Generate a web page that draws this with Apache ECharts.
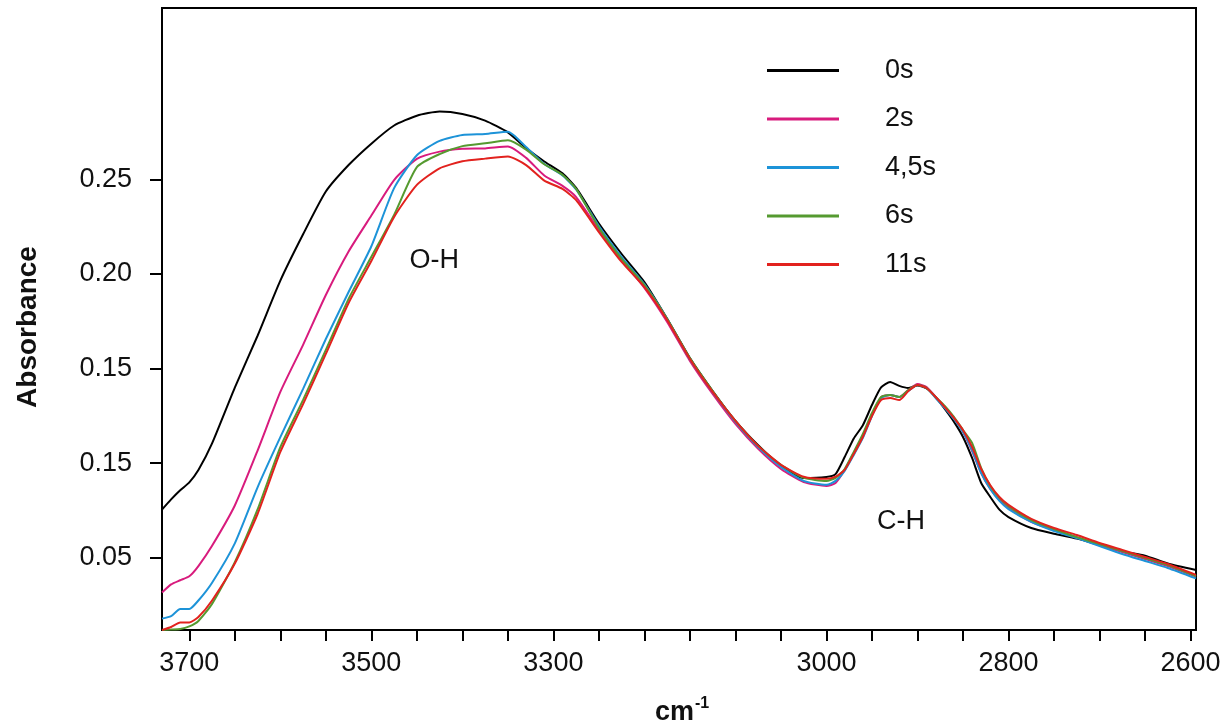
<!DOCTYPE html>
<html>
<head>
<meta charset="utf-8">
<script src="https://cdn.jsdelivr.net/npm/echarts@6/dist/echarts.min.js"></script>
<style>
  html, body { margin: 0; padding: 0; background: #fff; }
  #chart { width: 1227px; height: 724px; }
</style>
</head>
<body>
<div id="chart"></div>
<script>
// wavenumbers (cm-1), shared by all spectra
const wavenumbers = [3730, 3720, 3710, 3700, 3690, 3675, 3650, 3625, 3600, 3575,
  3550, 3525, 3500, 3475, 3450, 3425, 3400, 3375, 3350, 3330,
  3310, 3290, 3275, 3250, 3225, 3200, 3175, 3150, 3125, 3100,
  3075, 3050, 3025, 3000, 2990, 2980, 2970, 2960, 2950, 2940,
  2930, 2920, 2910, 2900, 2890, 2880, 2870, 2860, 2850, 2840,
  2830, 2820, 2810, 2800, 2775, 2750, 2725, 2700, 2675, 2650,
  2625, 2594];

const abs0s = [0.0754, 0.0808, 0.0856, 0.0898, 0.0963, 0.1104, 0.1399, 0.1673, 0.1964, 0.2209,
  0.2435, 0.2575, 0.2688, 0.2784, 0.2836, 0.2858, 0.2845, 0.2810, 0.2748, 0.2665,
  0.2594, 0.2531, 0.2454, 0.2266, 0.2105, 0.1957, 0.1763, 0.1555, 0.1381, 0.1223,
  0.1094, 0.0985, 0.0921, 0.0927, 0.0942, 0.1032, 0.1130, 0.1200, 0.1307, 0.1400,
  0.1429, 0.1408, 0.1397, 0.1410, 0.1395, 0.1349, 0.1286, 0.1219, 0.1138, 0.1027,
  0.0895, 0.0821, 0.0754, 0.0715, 0.0657, 0.0627, 0.0601, 0.0567, 0.0533, 0.0511,
  0.0469, 0.0435];

const abs2s = [0.0316, 0.0359, 0.0381, 0.0402, 0.0456, 0.0563, 0.0776, 0.1066, 0.1376, 0.1625,
  0.1888, 0.2118, 0.2308, 0.2496, 0.2608, 0.2646, 0.2661, 0.2663, 0.2673, 0.2613,
  0.2520, 0.2465, 0.2406, 0.2232, 0.2073, 0.1926, 0.1746, 0.1540, 0.1365, 0.1207,
  0.1075, 0.0969, 0.0900, 0.0879, 0.0895, 0.0963, 0.1053, 0.1144, 0.1254, 0.1349,
  0.1360, 0.1349, 0.1386, 0.1418, 0.1402, 0.1349, 0.1296, 0.1239, 0.1164, 0.1064,
  0.0947, 0.0863, 0.0805, 0.0763, 0.0689, 0.0646, 0.0609, 0.0567, 0.0530, 0.0493,
  0.0456, 0.0400];

const abs45s = [0.0178, 0.0191, 0.0229, 0.0229, 0.0274, 0.0368, 0.0576, 0.0872, 0.1137, 0.1392,
  0.1656, 0.1904, 0.2146, 0.2453, 0.2627, 0.2703, 0.2734, 0.2739, 0.2751, 0.2670,
  0.2581, 0.2520, 0.2446, 0.2253, 0.2089, 0.1946, 0.1762, 0.1550, 0.1376, 0.1218,
  0.1085, 0.0980, 0.0906, 0.0885, 0.0906, 0.0959, 0.1043, 0.1133, 0.1249, 0.1344,
  0.1360, 0.1349, 0.1381, 0.1413, 0.1397, 0.1344, 0.1291, 0.1233, 0.1164, 0.1069,
  0.0947, 0.0863, 0.0800, 0.0757, 0.0689, 0.0641, 0.0604, 0.0562, 0.0520, 0.0483,
  0.0446, 0.0391];

const abs6s = [0.0118, 0.0120, 0.0123, 0.0137, 0.0166, 0.0256, 0.0476, 0.0755, 0.1084, 0.1334,
  0.1598, 0.1868, 0.2090, 0.2312, 0.2564, 0.2633, 0.2675, 0.2690, 0.2706, 0.2657,
  0.2579, 0.2523, 0.2449, 0.2243, 0.2079, 0.1941, 0.1762, 0.1555, 0.1381, 0.1223,
  0.1091, 0.0991, 0.0922, 0.0906, 0.0922, 0.0969, 0.1059, 0.1154, 0.1265, 0.1349,
  0.1360, 0.1349, 0.1386, 0.1413, 0.1397, 0.1349, 0.1302, 0.1244, 0.1175, 0.1107,
  0.0974, 0.0879, 0.0816, 0.0773, 0.0699, 0.0652, 0.0609, 0.0572, 0.0535, 0.0498,
  0.0461, 0.0403];

const abs11s = [0.0118, 0.0134, 0.0158, 0.0158, 0.0187, 0.0274, 0.0469, 0.0731, 0.1059, 0.1312,
  0.1577, 0.1846, 0.2068, 0.2301, 0.2470, 0.2558, 0.2595, 0.2609, 0.2620, 0.2575,
  0.2493, 0.2449, 0.2390, 0.2221, 0.2063, 0.1930, 0.1756, 0.1550, 0.1376, 0.1223,
  0.1091, 0.0991, 0.0928, 0.0917, 0.0928, 0.0964, 0.1048, 0.1138, 0.1249, 0.1333,
  0.1344, 0.1333, 0.1381, 0.1413, 0.1397, 0.1349, 0.1296, 0.1239, 0.1175, 0.1085,
  0.0969, 0.0883, 0.0821, 0.0779, 0.0705, 0.0657, 0.0620, 0.0578, 0.0541, 0.0504,
  0.0467, 0.0409];

const seriesNames = ['0s', '2s', '4,5s', '6s', '11s'];
const seriesColors = ['#000000', '#d81b7d', '#1d93d8', '#559a30', '#e2221e'];
const seriesValues = [abs0s, abs2s, abs45s, abs6s, abs11s];

// axis ticks / labels (the original figure prints 0.15 twice)
const xLabelValues = [3700, 3500, 3300, 3000, 2800, 2600];
const yTickValues = [0.05, 0.10, 0.15, 0.20, 0.25];
const yTickLabels = ['0.05', '0.15', '0.15', '0.20', '0.25'];

// band annotations
const bandLabels = [
  { text: 'O-H', wn: 3431, abs: 0.2068 },
  { text: 'C-H', wn: 2918, abs: 0.0690 }
];

const FONT = '"Liberation Sans", Arial, sans-serif';

let xTickValues = [];
for (let w = 2600; w <= 3700; w += 50) xTickValues.push(w);

const chart = echarts.init(document.getElementById('chart'), null, { renderer: 'canvas' });

const series = seriesNames.map((name, i) => ({
  name: name,
  type: 'line',
  data: wavenumbers.map((w, k) => [w, seriesValues[i][k]]),
  showSymbol: false,
  symbol: 'none',
  smooth: 0.2,
  color: seriesColors[i],
  lineStyle: { width: 2, color: seriesColors[i] },
  z: 2 + i
}));

chart.setOption({
  animation: false,
  backgroundColor: '#fff',
  grid: {
    left: 162, right: 31, top: 8, bottom: 94,
    show: true, borderColor: '#000', borderWidth: 2,
    outerBoundsMode: 'none'
  },
  legend: {
    orient: 'vertical',
    left: 762, top: 52,
    icon: 'rect',
    itemWidth: 72, itemHeight: 3,
    itemGap: 21.5,
    selectedMode: false,
    textStyle: { fontSize: 27, fontFamily: FONT, color: '#111', lineHeight: 27, padding: [0, 0, 0, 41] },
    data: seriesNames
  },
  xAxis: {
    type: 'value',
    inverse: true,
    min: 2594, max: 3730,
    axisLine: { show: true, lineStyle: { color: '#000', width: 2 } },
    axisTick: { show: true, inside: false, length: 11, lineStyle: { color: '#000', width: 2 }, customValues: xTickValues },
    axisLabel: {
      customValues: xLabelValues, margin: 20, fontSize: 27, fontFamily: FONT, color: '#111',
      formatter: function (v) { return String(Math.round(v)); }
    },
    splitLine: { show: false }
  },
  yAxis: {
    type: 'value',
    min: 0.0118, max: 0.3405,
    axisLine: { show: true, lineStyle: { color: '#000', width: 2 } },
    axisTick: { show: true, inside: false, length: 12, lineStyle: { color: '#000', width: 2 }, customValues: yTickValues },
    axisLabel: {
      customValues: yTickValues, margin: 30, fontSize: 27, fontFamily: FONT, color: '#111',
      formatter: function (v) {
        const idx = yTickValues.findIndex(t => Math.abs(t - v) < 1e-6);
        return idx >= 0 ? yTickLabels[idx] : '';
      }
    },
    splitLine: { show: false }
  },
  series: series
});

// axis titles and band labels
const graphics = [
  {
    type: 'text', x: 28, y: 327, rotation: Math.PI / 2,
    style: { text: 'Absorbance', font: 'bold 28px ' + FONT, fill: '#111', align: 'center', verticalAlign: 'middle' }
  },
  {
    type: 'text', x: 682, y: 711,
    style: {
      text: '{a|cm}{b|-1}', align: 'center', verticalAlign: 'middle', fill: '#111',
      rich: {
        a: { fontSize: 27, fontWeight: 'bold', fontFamily: FONT, lineHeight: 30, verticalAlign: 'bottom' },
        b: { fontSize: 16, fontWeight: 'bold', fontFamily: FONT, lineHeight: 30, verticalAlign: 'top', padding: [0, 0, 0, 1] }
      }
    }
  }
];
bandLabels.forEach(b => {
  const p = chart.convertToPixel({ gridIndex: 0 }, [b.wn, b.abs]);
  graphics.push({
    type: 'text', x: p[0], y: p[1],
    style: { text: b.text, font: '27px ' + FONT, fill: '#111', align: 'center', verticalAlign: 'middle' }
  });
});
chart.setOption({ graphic: graphics });
</script>
</body>
</html>
